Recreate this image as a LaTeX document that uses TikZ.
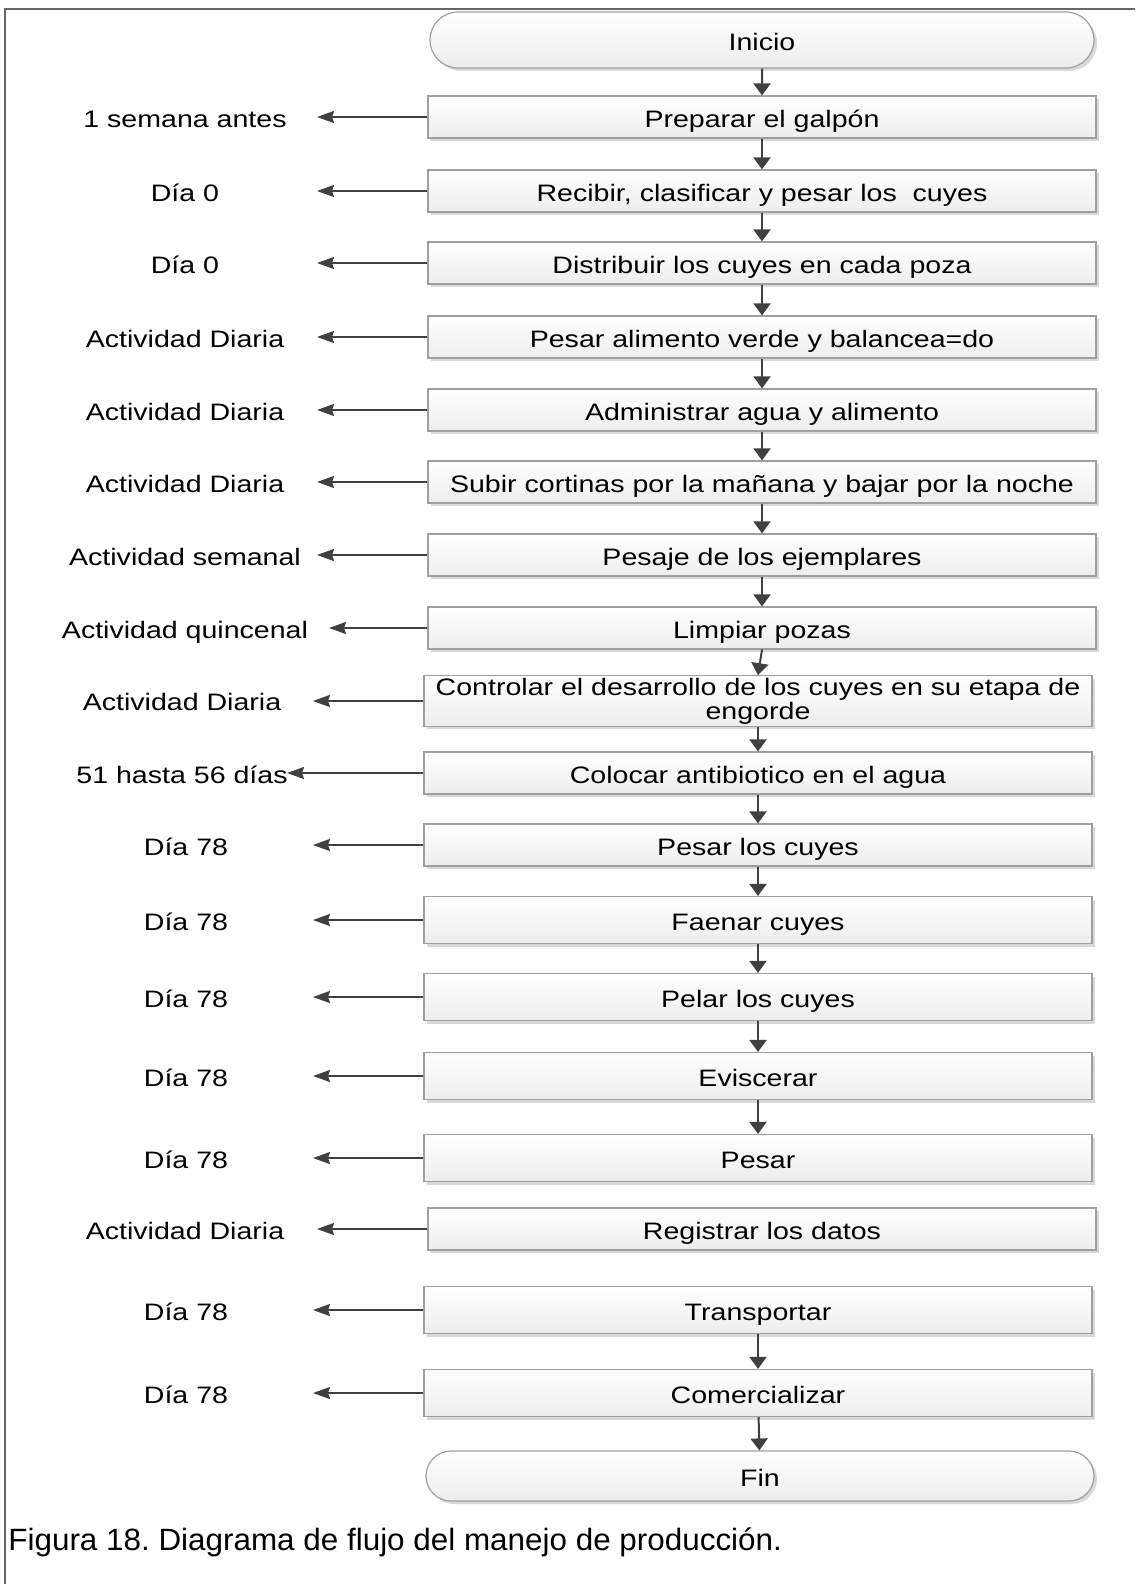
\documentclass[tikz,border=0pt]{standalone}
\usepackage{fontspec}
\setmainfont{Liberation Sans}[FakeStretch=1.2]
\newfontfamily\piefont{Liberation Sans}[FakeStretch=1.02]
\usetikzlibrary{arrows.meta,shapes.misc,shadows}
\frenchspacing

\begin{document}
\begin{tikzpicture}[x=0.5pt,y=-0.5pt,
    caja/.style={draw=gray!75, line width=0.6pt, top color=white, bottom color=gray!14,
        drop shadow={shadow xshift=1.5pt,shadow yshift=-1.5pt,opacity=0.3},
        minimum width=334pt, minimum height=21pt, inner sep=1pt, align=center,
        text height=12.5pt, text depth=2pt,
        font=\fontsize{11.9}{10.6}\selectfont},
    cajab/.style={caja, minimum height=23.5pt},
    term/.style={caja, rounded rectangle, minimum height=28pt},
    etiq/.style={font=\fontsize{11.9}{13}\selectfont, text height=12.5pt, text depth=2pt},
    flecha/.style={draw=black!75, line width=1pt, -{Triangle[length=6pt,width=8.5pt]}},
    lateral/.style={draw=black!75, line width=1pt, -{Stealth[length=8.5pt,width=6pt,inset=1pt]}},
]

    \useasboundingbox (0,0) rectangle (1135,1584);

    % marco
    \draw[gray!80!black, line width=1pt] (5,1584) -- (5,9) -- (1135,9);

    % puntas de las flechas laterales
    \coordinate (punta) at (317,0);
    \coordinate (puntaq) at (329,0);
    \coordinate (puntab) at (313,0);
    \coordinate (puntac) at (287,0);

    % pasos del proceso
    \node[term] (inicio) at (762,40) {Inicio};
    \node[caja] (galpon) at (762,117) {Preparar el galpón};
    \node[caja] (recibir) at (762,191) {Recibir, clasificar y pesar los~ cuyes};
    \node[caja] (distrib) at (762,263) {Distribuir los cuyes en cada poza};
    \node[caja] (pesalim) at (762,337) {Pesar alimento verde y balancea=do};
    \node[caja] (agua) at (762,410) {Administrar agua y alimento};
    \node[caja] (cortinas) at (762,482) {Subir cortinas por la mañana y bajar por la noche};
    \node[caja] (pesaje) at (762,555) {Pesaje de los ejemplares};
    \node[caja] (limpiar) at (762,628) {Limpiar pozas};
    \node[caja, text height=, text depth=] (control) at (758,701) {Controlar el desarrollo de los cuyes en su etapa de\\engorde};
    \node[caja] (antibio) at (758,773) {Colocar antibiotico en el agua};
    \node[caja] (pesacuy) at (758,845) {Pesar los cuyes};
    \node[cajab] (faenar) at (758,920) {Faenar cuyes};
    \node[cajab] (pelar) at (758,997) {Pelar los cuyes};
    \node[cajab] (visceras) at (758,1076) {Eviscerar};
    \node[cajab] (pesar) at (758,1158) {Pesar};
    \node[caja] (registro) at (762,1229) {Registrar los datos};
    \node[cajab] (transp) at (758,1310) {Transportar};
    \node[cajab] (comercio) at (758,1393) {Comercializar};
    \node[term, minimum height=25pt, minimum width=336pt] (fin) at (760,1476) {Fin};

    % flujo principal
    \draw[flecha] (inicio) -- (galpon);
    \draw[flecha] (galpon) -- (recibir);
    \draw[flecha] (recibir) -- (distrib);
    \draw[flecha] (distrib) -- (pesalim);
    \draw[flecha] (pesalim) -- (agua);
    \draw[flecha] (agua) -- (cortinas);
    \draw[flecha] (cortinas) -- (pesaje);
    \draw[flecha] (pesaje) -- (limpiar);
    \draw[flecha] (limpiar.south) -- (control.north);
    \draw[flecha] (control) -- (antibio);
    \draw[flecha] (antibio) -- (pesacuy);
    \draw[flecha] (pesacuy) -- (faenar);
    \draw[flecha] (faenar) -- (pelar);
    \draw[flecha] (pelar) -- (visceras);
    \draw[flecha] (visceras) -- (pesar);
    \draw[flecha] (transp) -- (comercio);
    \draw[flecha] (comercio) -- (fin);

    % tiempos
    \node[etiq] (t1) at (185,117) {1 semana antes};
    \node[etiq] (t2) at (185,191) {Día 0};
    \node[etiq] (t3) at (185,263) {Día 0};
    \node[etiq] (t4) at (185,337) {Actividad Diaria};
    \node[etiq] (t5) at (185,410) {Actividad Diaria};
    \node[etiq] (t6) at (185,482) {Actividad Diaria};
    \node[etiq] (t7) at (185,555) {Actividad semanal};
    \node[etiq] (t8) at (185,628) {Actividad quincenal};
    \node[etiq] (t9) at (182,700) {Actividad Diaria};
    \node[etiq] (t10) at (182,773) {51 hasta 56 días};
    \node[etiq] (t11) at (186,845) {Día 78};
    \node[etiq] (t12) at (186,920) {Día 78};
    \node[etiq] (t13) at (186,997) {Día 78};
    \node[etiq] (t14) at (186,1076) {Día 78};
    \node[etiq] (t15) at (186,1158) {Día 78};
    \node[etiq] (t16) at (185,1229) {Actividad Diaria};
    \node[etiq] (t17) at (186,1310) {Día 78};
    \node[etiq] (t18) at (186,1393) {Día 78};

    % flechas laterales
    \draw[lateral] (galpon.west) -- (galpon.west -| punta);
    \draw[lateral] (recibir.west) -- (recibir.west -| punta);
    \draw[lateral] (distrib.west) -- (distrib.west -| punta);
    \draw[lateral] (pesalim.west) -- (pesalim.west -| punta);
    \draw[lateral] (agua.west) -- (agua.west -| punta);
    \draw[lateral] (cortinas.west) -- (cortinas.west -| punta);
    \draw[lateral] (pesaje.west) -- (pesaje.west -| punta);
    \draw[lateral] (limpiar.west) -- (limpiar.west -| puntaq);
    \draw[lateral] (control.west) -- (control.west -| puntab);
    \draw[lateral] (antibio.west) -- (antibio.west -| puntac);
    \draw[lateral] (pesacuy.west) -- (pesacuy.west -| puntab);
    \draw[lateral] (faenar.west) -- (faenar.west -| puntab);
    \draw[lateral] (pelar.west) -- (pelar.west -| puntab);
    \draw[lateral] (visceras.west) -- (visceras.west -| puntab);
    \draw[lateral] (pesar.west) -- (pesar.west -| puntab);
    \draw[lateral] (registro.west) -- (registro.west -| punta);
    \draw[lateral] (transp.west) -- (transp.west -| puntab);
    \draw[lateral] (comercio.west) -- (comercio.west -| puntab);

    % pie de figura
    \node[anchor=base west, inner sep=0pt, font=\piefont\fontsize{15.4}{18}\selectfont] (pie) at (8,1550)
        {Figura 18. Diagrama de flujo del manejo de producción.};

\end{tikzpicture}
\end{document}
